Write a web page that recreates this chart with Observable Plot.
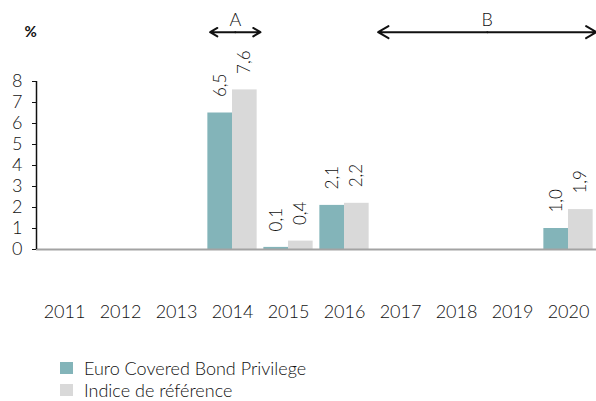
<!DOCTYPE html>
<html>
<head>
<meta charset="utf-8">
<script src="https://cdn.jsdelivr.net/npm/d3@7"></script>
<script src="https://cdn.jsdelivr.net/npm/@observablehq/plot@0.6"></script>
<style>
  html, body { margin: 0; padding: 0; background: #fff; }
  body { width: 596px; height: 401px; overflow: hidden; font-family: Lato, sans-serif; font-weight: 300; color: #111; }
  #legend { padding-left: 60px; margin-top: 12px; font-size: 18px; font-weight: 300; color: #111; }
  .row { display: flex; align-items: center; height: 22px; }
  .row span { line-height: 15px; }
  .sw { width: 13px; height: 12px; margin-right: 11px; }
</style>
</head>
<body>
<div id="chart"></div>
<div id="legend"></div>
<script>
const years = [2011, 2012, 2013, 2014, 2015, 2016, 2017, 2018, 2019, 2020];
const seriesNames = ["Euro Covered Bond Privilege", "Indice de référence"];
const seriesColors = ["#83b4b9", "#d9d9d9"];
const fundYears = [2014, 2015, 2016, 2020];
const fundValues = [6.5, 0.1, 2.1, 1.0];
const benchYears = [2014, 2015, 2016, 2020];
const benchValues = [7.6, 0.4, 2.2, 1.9];
const yTicks = [0, 1, 2, 3, 4, 5, 6, 7, 8];
const periodLabels = ["A", "B"];
const periodStart = [2013.6, 2016.6];
const periodEnd = [2014.5, 2020.5];
const periodLevel = 10.35;
const unitLabel = "%";

const barHalf = 0.44;
const fund = fundYears.map((y, i) => ({year: y, value: fundValues[i]}));
const bench = benchYears.map((y, i) => ({year: y, value: benchValues[i]}));
const periods = periodLabels.map((l, i) => ({label: l, x1: periodStart[i], x2: periodEnd[i], mid: (periodStart[i] + periodEnd[i]) / 2, y: periodLevel}));
const fmt = v => v.toFixed(1).replace(".", ",");

const chart = Plot.plot({
  width: 596,
  height: 345,
  marginLeft: 36,
  marginRight: 0,
  marginTop: 81,
  marginBottom: 96,
  style: {fontFamily: "Lato, sans-serif", fontSize: "18px", fontWeight: 300, color: "#111", background: "#fff", overflow: "visible"},
  x: {type: "linear", domain: [years[0] - 0.5, years[years.length - 1] + 0.5], ticks: years, tickFormat: d => String(d), tickSize: 0, tickPadding: 56, label: null},
  y: {domain: [0, 8], ticks: yTicks, tickSize: 4, tickPadding: 10, label: null},
  marks: [
    Plot.rectY(fund, {x1: d => d.year - barHalf, x2: d => d.year, y1: 0, y2: "value", fill: seriesColors[0]}),
    Plot.rectY(bench, {x1: d => d.year, x2: d => d.year + barHalf, y1: 0, y2: "value", fill: seriesColors[1]}),
    Plot.ruleY([0], {stroke: "#a3a3a3", strokeWidth: 2}),
    Plot.ruleX([years[0] - 0.5], {y1: 0, y2: 8, stroke: "#111", strokeWidth: 1.5}),
    Plot.text(fund, {x: d => d.year - barHalf / 2, y: "value", text: d => fmt(d.value), rotate: -90, textAnchor: "start", dy: -16, fontSize: 17, fill: "#111"}),
    Plot.text(bench, {x: d => d.year + barHalf / 2, y: "value", text: d => fmt(d.value), rotate: -90, textAnchor: "start", dy: -16, fontSize: 17, fill: "#111"}),
    Plot.arrow(periods, {x1: "mid", x2: "x1", y1: "y", y2: "y", stroke: "#111", strokeWidth: 2, headLength: 9}),
    Plot.arrow(periods, {x1: "mid", x2: "x2", y1: "y", y2: "y", stroke: "#111", strokeWidth: 2, headLength: 9}),
    Plot.text(periods, {x: "mid", y: "y", text: "label", dy: -12, fontSize: 18, fill: "#111"}),
    Plot.text([unitLabel], {frameAnchor: "top-left", dx: -12, dy: -55, fontSize: 15, fontWeight: "bold", fill: "#111"})
  ]
});
document.getElementById("chart").appendChild(chart);

const legend = document.getElementById("legend");
seriesNames.forEach((name, i) => {
  const row = document.createElement("div");
  row.className = "row";
  const sw = document.createElement("div");
  sw.className = "sw";
  sw.style.background = seriesColors[i];
  const t = document.createElement("span");
  t.textContent = name;
  row.appendChild(sw);
  row.appendChild(t);
  legend.appendChild(row);
});
</script>
</body>
</html>
